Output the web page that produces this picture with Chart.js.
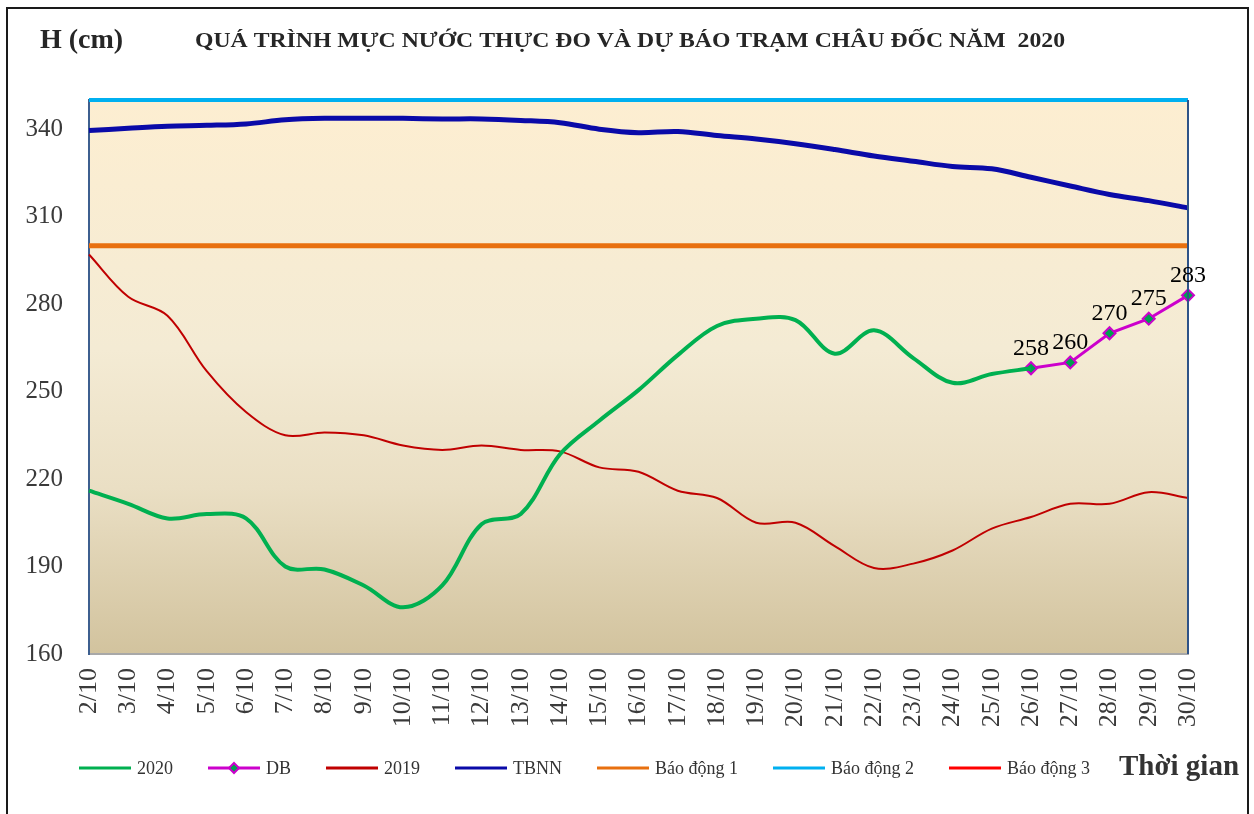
<!DOCTYPE html>
<html>
<head>
<meta charset="utf-8">
<script src="https://cdn.jsdelivr.net/npm/chart.js@4.4.0/dist/chart.umd.min.js"></script>
<style>
    html, body { margin: 0; padding: 0; background: #ffffff; }
    #khung { width: 1254px; height: 814px; }
</style>
</head>
<body>
<div id="khung"><canvas id="bieuDoMucNuoc"></canvas></div>
<script>
// ==================== DỮ LIỆU ====================
const ngay = ["2/10", "3/10", "4/10", "5/10", "6/10", "7/10", "8/10", "9/10", "10/10", "11/10",
    "12/10", "13/10", "14/10", "15/10", "16/10", "17/10", "18/10", "19/10", "20/10", "21/10",
    "22/10", "23/10", "24/10", "25/10", "26/10", "27/10", "28/10", "29/10", "30/10"];

// Mực nước thực đo 2020 (cm)
const muc2020 = [216, 211.5, 206.5, 208, 206.5, 190, 189, 183.5, 176, 183.5,
    204.5, 208, 228.5, 240, 250.5, 262.5, 272.5, 275, 274.5, 263,
    271, 261.5, 253, 256, 258, null, null, null, null];

// Dự báo (DB)
const duBao = [null, null, null, null, null, null, null, null, null, null,
    null, null, null, null, null, null, null, null, null, null,
    null, null, null, null, 258, 260, 270, 275, 283];

// Cùng kỳ 2019
const muc2019 = [297, 282.5, 276, 257, 243, 235, 236, 235, 231.5, 230,
    231.5, 230, 229.5, 224, 222.5, 216, 213.5, 205, 205, 197,
    189.5, 191, 195.5, 203, 207, 211.5, 211.5, 215.5, 213.5];

// Trung bình nhiều năm
const tbnn = [339.5, 340.3, 341, 341.3, 341.8, 343.2, 343.7, 343.7, 343.7, 343.5,
    343.5, 343, 342.2, 340, 338.8, 339.2, 337.8, 336.6, 335, 333,
    330.8, 329, 327.2, 326.4, 323.5, 320.5, 317.6, 315.5, 313];

// Mức báo động (cm)
const baoDong1 = 300;
const baoDong2 = 350;
const baoDong3 = 400;

const yTicks = [160, 190, 220, 250, 280, 310, 340];

const FONT = "'Liberation Serif', 'Times New Roman', serif";
const TIEU_DE = "QUÁ TRÌNH MỰC NƯỚC THỰC ĐO VÀ DỰ BÁO TRẠM CHÂU ĐỐC NĂM  2020";

// đường ngang báo động: từ ngày đầu đến ngày cuối
function duongBaoDong(muc) {
    return [{ x: ngay[0], y: muc }, { x: ngay[ngay.length - 1], y: muc }];
}

// ==================== PLUGIN VẼ PHỤ ====================
const nenVung = {
    id: "nenVung",
    beforeDraw(chart) {
        const { ctx, chartArea: a } = chart;
        const g = ctx.createLinearGradient(0, a.top, 0, a.bottom);
        g.addColorStop(0, "#fdeed1");
        g.addColorStop(0.45, "#f4ebd4");
        g.addColorStop(0.7, "#eadfc4");
        g.addColorStop(1, "#d2c39e");
        ctx.save();
        ctx.fillStyle = g;
        ctx.fillRect(a.left, a.top, a.right - a.left, a.bottom - a.top);
        ctx.restore();
    },
    afterDatasetsDraw(chart) {
        const { ctx, chartArea: a } = chart;
        ctx.save();
        // viền phải vùng vẽ
        ctx.strokeStyle = "#2e5388";
        ctx.lineWidth = 2;
        ctx.beginPath();
        ctx.moveTo(a.right, a.top);
        ctx.lineTo(a.right, a.bottom);
        ctx.stroke();

        // nhãn giá trị dự báo
        const meta = chart.getDatasetMeta(1);
        ctx.fillStyle = "#000000";
        ctx.font = "24px " + FONT;
        ctx.textAlign = "center";
        ctx.textBaseline = "bottom";
        meta.data.forEach((p, i) => {
            if (duBao[i] == null) return;
            ctx.fillText(String(duBao[i]), p.x, p.y - 8);
        });
        ctx.restore();
    },
    afterDraw(chart) {
        const { ctx } = chart;
        ctx.save();
        // khung ngoài
        ctx.strokeStyle = "#1a1a1a";
        ctx.lineWidth = 2;
        ctx.beginPath();
        ctx.moveTo(7, 830);
        ctx.lineTo(7, 8);
        ctx.lineTo(1248, 8);
        ctx.lineTo(1248, 830);
        ctx.stroke();

        // tiêu đề
        ctx.fillStyle = "#262626";
        ctx.textBaseline = "middle";
        ctx.textAlign = "left";
        ctx.font = "bold 28px " + FONT;
        ctx.fillText("H (cm)", 40, 41);
        ctx.font = "bold 21px " + FONT;
        const rong = ctx.measureText(TIEU_DE).width;
        ctx.save();
        ctx.translate(195, 42);
        ctx.scale(870 / rong, 1);
        ctx.fillText(TIEU_DE, 0, 0);
        ctx.restore();

        // chú giải
        let x = 79;
        const y = 768;
        ctx.font = "18px " + FONT;
        chart.data.datasets.forEach(ds => {
            ctx.strokeStyle = ds.borderColor;
            ctx.lineWidth = 3;
            ctx.beginPath();
            ctx.moveTo(x, y);
            ctx.lineTo(x + 52, y);
            ctx.stroke();
            if (ds.pointRadius > 0) {
                ctx.fillStyle = ds.pointBackgroundColor;
                ctx.strokeStyle = ds.pointBorderColor;
                ctx.lineWidth = 2;
                ctx.beginPath();
                ctx.moveTo(x + 26, y - 5);
                ctx.lineTo(x + 31, y);
                ctx.lineTo(x + 26, y + 5);
                ctx.lineTo(x + 21, y);
                ctx.closePath();
                ctx.fill();
                ctx.stroke();
            }
            ctx.fillStyle = "#333333";
            ctx.fillText(ds.label, x + 58, y + 1);
            x += 58 + ctx.measureText(ds.label).width + 35;
        });
        ctx.font = "bold 29px " + FONT;
        ctx.fillText("Thời gian", 1119, 768);
        ctx.restore();
    }
};

// ==================== VẼ BIỂU ĐỒ ====================
new Chart(document.getElementById("bieuDoMucNuoc"), {
    type: "line",
    data: {
        labels: ngay,
        datasets: [
            { label: "2020", data: muc2020, borderColor: "#00b050", borderWidth: 4, pointRadius: 0, tension: 0.35 },
            {
                label: "DB", data: duBao, borderColor: "#cc00cc", borderWidth: 3, tension: 0,
                pointStyle: "rectRot", pointRadius: 6, pointBackgroundColor: "#00a050",
                pointBorderColor: "#cc00cc", pointBorderWidth: 2
            },
            { label: "2019", data: muc2019, borderColor: "#c00000", borderWidth: 2, pointRadius: 0, tension: 0.35 },
            { label: "TBNN", data: tbnn, borderColor: "#0a0aa8", borderWidth: 5, pointRadius: 0, tension: 0.35 },
            { label: "Báo động 1", data: duongBaoDong(baoDong1), borderColor: "#e8700f", borderWidth: 5, pointRadius: 0 },
            {
                label: "Báo động 2", data: duongBaoDong(baoDong2), borderColor: "#00b0f0", borderWidth: 4, pointRadius: 0,
                clip: { left: 0, top: 3, right: 1, bottom: 0 }
            },
            { label: "Báo động 3", data: duongBaoDong(baoDong3), borderColor: "#ff0000", borderWidth: 3, pointRadius: 0 }
        ]
    },
    options: {
        responsive: true,
        maintainAspectRatio: false,
        animation: false,
        layout: { padding: { top: 100, right: 66, left: 0, bottom: 0 } },
        plugins: {
            legend: { display: false },
            title: { display: false },
            tooltip: { enabled: false }
        },
        scales: {
            x: {
                grid: { display: false, drawTicks: false },
                border: { display: true, color: "#a8a8a8", width: 2 },
                ticks: {
                    color: "#3a3a3a",
                    font: { family: FONT, size: 26 },
                    minRotation: 90,
                    maxRotation: 90,
                    padding: 14,
                    autoSkip: false
                },
                afterFit(scale) { scale.height = 160; }
            },
            y: {
                min: 160,
                max: 350,
                grid: { display: false, drawTicks: false },
                border: { display: true, color: "#3d5f8f", width: 2 },
                ticks: {
                    color: "#3a3a3a",
                    font: { family: FONT, size: 25 },
                    padding: 26
                },
                afterBuildTicks(scale) { scale.ticks = yTicks.map(v => ({ value: v })); },
                afterFit(scale) { scale.width = 89; }
            }
        }
    },
    plugins: [nenVung]
});
</script>
</body>
</html>
